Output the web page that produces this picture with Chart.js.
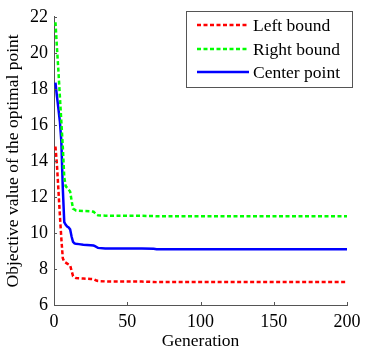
<!DOCTYPE html>
<html><head><meta charset="utf-8">
<script src="https://cdn.jsdelivr.net/npm/chart.js@4"></script>
<style>html,body{margin:0;padding:0;background:#fff}canvas{display:block}</style>
</head><body>
<canvas id="c" width="371" height="356"></canvas>
<script>
const generations = [1,2,3,4,5,6,7,8,9,10,11,12,13,14,15,17,20,25,27,28,29,30,35,40,50,60,68,70,80,100,150,200];
const leftBound   = [14.8,13.8,12.4,11.0,9.7,8.6,8.4,8.35,8.3,8.25,8.2,7.9,7.6,7.55,7.5,7.48,7.47,7.45,7.44,7.4,7.36,7.33,7.31,7.3,7.3,7.3,7.28,7.27,7.27,7.27,7.27,7.27];
const rightBound  = [21.7,20.3,19.0,17.6,16.2,14.8,13.1,12.6,12.5,12.4,12.3,11.8,11.35,11.3,11.25,11.23,11.22,11.2,11.18,11.1,11.02,10.98,10.96,10.95,10.95,10.95,10.94,10.93,10.93,10.93,10.93,10.93];
const centerPoint = [18.35,17.6,16.9,16.2,15.1,12.5,10.6,10.45,10.35,10.3,10.2,9.8,9.5,9.42,9.4,9.38,9.35,9.32,9.3,9.27,9.22,9.17,9.14,9.13,9.13,9.13,9.12,9.1,9.09,9.09,9.09,9.09];
const seriesLabels = ['Left bound','Right bound','Center point'];
const xTicks = [0,50,100,150,200];
const yTicks = [6,8,10,12,14,16,18,20,22];

const FONT = "'Liberation Serif','Times New Roman',serif";
const toPts = arr => arr.map((v,i)=>({x:generations[i], y:v}));

const inwardTicks = {
  id:'inwardTicks',
  afterDatasetsDraw(chart){
    const {ctx, chartArea:a, scales:{x,y}} = chart;
    ctx.save();
    ctx.strokeStyle='#555'; ctx.lineWidth=1;
    ctx.beginPath();
    xTicks.forEach(t=>{const px=Math.round(x.getPixelForValue(t))+0.5; ctx.moveTo(px,a.bottom); ctx.lineTo(px,a.bottom-3);});
    yTicks.forEach(t=>{const py=Math.round(y.getPixelForValue(t))+0.5; ctx.moveTo(a.left,py); ctx.lineTo(a.left+3,py);});
    ctx.stroke();
    ctx.restore();
  }
};

const boxLegend = {
  id:'boxLegend',
  afterDraw(chart){
    const ctx = chart.ctx;
    const bx=186.5, by=11.5, bw=166, bh=76;
    ctx.save();
    ctx.fillStyle='#fff'; ctx.fillRect(bx,by,bw,bh);
    ctx.strokeStyle='#555'; ctx.lineWidth=1; ctx.strokeRect(bx,by,bw,bh);
    const rows=[25,49,72];
    chart.data.datasets.forEach((ds,i)=>{
      ctx.strokeStyle=ds.borderColor; ctx.lineWidth=ds.borderWidth;
      ctx.setLineDash(ds.borderDash||[]);
      ctx.beginPath(); ctx.moveTo(197,rows[i]); ctx.lineTo(249,rows[i]); ctx.stroke();
      ctx.setLineDash([]);
      ctx.fillStyle='#000'; ctx.font="17.5px "+FONT; ctx.textAlign='left'; ctx.textBaseline='middle';
      ctx.fillText(ds.label,253,rows[i]+1);
    });
    ctx.restore();
  }
};

new Chart(document.getElementById('c'), {
  type:'line',
  data:{datasets:[
    {label:seriesLabels[0], data:toPts(leftBound), borderColor:'#ff0000', borderWidth:2.5, borderDash:[4,2.5], pointRadius:0, fill:false, tension:0},
    {label:seriesLabels[1], data:toPts(rightBound), borderColor:'#00ff00', borderWidth:2.5, borderDash:[4,2.5], pointRadius:0, fill:false, tension:0},
    {label:seriesLabels[2], data:toPts(centerPoint), borderColor:'#0000ff', borderWidth:2.5, pointRadius:0, fill:false, tension:0}
  ]},
  options:{
    responsive:false, animation:false, devicePixelRatio:1,
    layout:{padding:{left:0,top:14,right:24,bottom:0}},
    plugins:{legend:{display:false}, tooltip:{enabled:false}},
    scales:{
      x:{type:'linear', min:0, max:200,
        afterBuildTicks(s){s.ticks=xTicks.map(v=>({value:v}));},
        afterFit(s){s.height=51;},
        grid:{drawOnChartArea:false, drawTicks:false, color:'#555'},
        border:{display:true,color:'#555',width:1},
        ticks:{font:{family:FONT,size:18}, color:'#000', padding:6, maxRotation:0},
        title:{display:true, text:'Generation', font:{family:FONT,size:17.5}, color:'#000', padding:{top:0,bottom:4}}
      },
      y:{type:'linear', min:6, max:22,
        afterBuildTicks(s){s.ticks=yTicks.map(v=>({value:v}));},
        afterFit(s){s.width=54;},
        grid:{drawOnChartArea:false, drawTicks:false, color:'#555'},
        border:{display:true,color:'#555',width:1},
        ticks:{font:{family:FONT,size:18}, color:'#000', padding:6},
        title:{display:true, text:'Objective value of the optimal point', font:{family:FONT,size:17.5}, color:'#000', padding:{top:3,bottom:0}}
      }
    }
  },
  plugins:[inwardTicks, boxLegend]
});
</script>
</body></html>
